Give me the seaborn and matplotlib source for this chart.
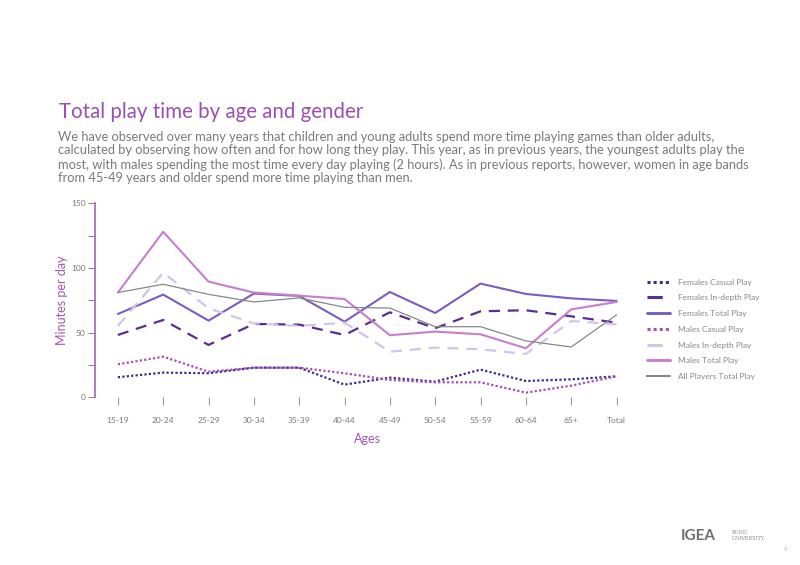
import pandas as pd
import numpy as np
import matplotlib.pyplot as plt
import seaborn as sns
from matplotlib.lines import Line2D
from matplotlib.ticker import MultipleLocator

ages = ["15-19", "20-24", "25-29", "30-34", "35-39", "40-44", "45-49",
        "50-54", "55-59", "60-64", "65+", "Total"]

females_casual = [15.5, 19.1, 18.6, 22.9, 22.9, 9.8, 15.2, 12.1, 21.4, 12.6, 13.9, 16.2]
females_indepth = [48.2, 59.8, 40.5, 56.7, 56.2, 48.2, 65.7, 53.4, 66.5, 67.3, 62.6, 57.7]
females_total = [64.4, 79.4, 59.3, 80.2, 78.4, 58.5, 81.4, 65.2, 87.9, 79.9, 76.5, 74.5]
males_casual = [25.5, 31.4, 19.8, 22.9, 22.9, 18.6, 13.4, 11.6, 11.6, 3.6, 9.0, 16.2]
males_indepth = [55.2, 96.4, 68.8, 57.2, 55.2, 57.7, 35.3, 38.4, 37.1, 33.5, 59.0, 56.4]
males_total = [81.0, 128.0, 89.4, 81.0, 78.6, 76.0, 48.0, 50.8, 48.7, 37.9, 68.0, 73.7]
all_total = [81.0, 87.4, 79.6, 73.7, 76.8, 69.6, 69.0, 54.6, 54.6, 43.6, 38.9, 63.7]

series_names = ["Females Casual Play", "Females In-depth Play", "Females Total Play",
                "Males Casual Play", "Males In-depth Play", "Males Total Play",
                "All Players Total Play"]
series_values = [females_casual, females_indepth, females_total,
                 males_casual, males_indepth, males_total, all_total]

colors = ["#3d2b8a", "#5c2d91", "#7b5cc0", "#a64fb8", "#cfc6e8", "#c67fcc", "#838a88"]
styles = [(0, (1, 1)), (0, (5, 3.5)), "-", (0, (1, 1)), (0, (5, 3.5)), "-", "-"]
widths = [1.6, 1.6, 1.5, 1.6, 1.6, 1.5, 0.9]

sns.set_style("white")
plt.rcParams["font.family"] = ["Lato", "DejaVu Sans"]

fig = plt.figure(figsize=(8, 5.65), dpi=100)
ax = fig.add_axes([0.119, 0.2968, 0.68, 0.3434])

for name, vals, c, ls, lw in zip(series_names, series_values, colors, styles, widths):
    df = pd.DataFrame({"age": ages, "minutes": vals})
    sns.lineplot(data=df, x="age", y="minutes", color=c, linestyle=ls,
                 linewidth=lw, ax=ax, sort=False)

ax.set_xlim(-0.5, len(ages) - 0.5)
ax.set_ylim(0, 150)
ax.yaxis.set_major_locator(MultipleLocator(50))
ax.yaxis.set_minor_locator(MultipleLocator(25))

for s in ["top", "right", "bottom"]:
    ax.spines[s].set_visible(False)
ax.spines["left"].set_color("#a862b8")
ax.spines["left"].set_linewidth(1.2)

ax.tick_params(axis="y", which="both", left=True, length=5, width=0.8,
               color="#8a8a8a", labelsize=6, labelcolor="#777777", pad=2)
ax.tick_params(axis="x", bottom=True, length=6, width=0.8, color="#9a9a9a",
               labelsize=6, labelcolor="#777777", pad=8)

ax.set_xlabel("Ages", color="#a553b8", fontsize=9, labelpad=7)
ax.set_ylabel("Minutes per day", color="#a553b8", fontsize=9, labelpad=2)

handles = [Line2D([], [], color=c, linestyle=ls, linewidth=lw + 0.6)
           for c, ls, lw in zip(colors, styles, widths)]
leg = ax.legend(handles, series_names, loc="center left", bbox_to_anchor=(1.0, 0.35),
                frameon=False, fontsize=6, labelspacing=1.05, handlelength=2.8,
                handletextpad=0.9)
for t in leg.get_texts():
    t.set_color("#888888")

fig.text(0.074, 0.802, "Total play time by age and gender", color="#9b4fb0",
         fontsize=14.8, va="center")
body = ("We have observed over many years that children and young adults spend more time playing games than older adults,\n"
        "calculated by observing how often and for how long they play. This year, as in previous years, the youngest adults play the\n"
        "most, with males spending the most time every day playing (2 hours). As in previous reports, however, women in age bands\n"
        "from 45-49 years and older spend more time playing than men.")
fig.text(0.072, 0.769, body, color="#7a7a7a", fontsize=9.3, va="top", linespacing=1.17)

fig.text(0.851, 0.052, "IGEA", color="#6f6f6f", fontsize=11, fontweight="bold", va="center")
fig.text(0.915, 0.052, "BOND\nUNIVERSITY", color="#888888", fontsize=3.5, va="center",
         family="DejaVu Serif")
fig.text(0.98, 0.028, "9", color="#aaaaaa", fontsize=4.5, va="center")

fig.savefig("out.png", dpi=100)
